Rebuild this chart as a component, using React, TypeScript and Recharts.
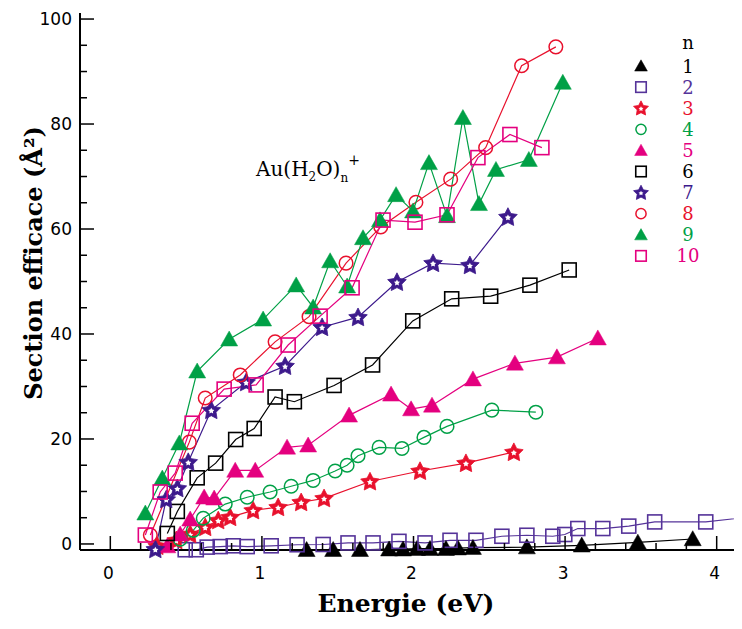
import React from 'react';
import { LineChart, Line, XAxis, YAxis } from 'recharts';

// ---- data (Energie eV, Section efficace Å²) ----
const n1X = [1.295, 1.47, 1.647, 1.839, 1.931, 2.023, 2.109, 2.214, 2.293, 2.392, 2.748, 3.11, 3.48, 3.842];
const n1Y = [-1.1, -1.1, -1.1, -1.0, -1.0, -0.9, -0.9, -0.9, -0.8, -0.7, -0.6, -0.25, 0.3, 0.95];

const n2X = [0.494, 0.567, 0.639, 0.725, 0.811, 0.903, 1.061, 1.232, 1.404, 1.568, 1.733, 1.904, 2.076, 2.241, 2.412, 2.583, 2.748, 2.919, 2.998, 3.084, 3.249, 3.42, 3.591, 3.928, 4.3];
const n2Y = [-1.1, -1.1, -0.6, -0.5, -0.35, -0.5, -0.35, -0.15, -0.1, 0.2, 0.2, 0.5, 0.2, 0.7, 0.7, 1.47, 1.66, 1.47, 1.8, 2.94, 2.94, 3.4, 4.2, 4.2, 5.4];

const n3X = [0.31, 0.435, 0.527, 0.626, 0.712, 0.791, 0.942, 1.107, 1.259, 1.41, 1.713, 2.043, 2.346, 2.662];
const n3Y = [-0.4, 0.7, 1.85, 3.2, 4.5, 5.1, 6.4, 7.0, 7.95, 8.7, 11.9, 13.9, 15.4, 17.5];

const n4X = [0.461, 0.547, 0.613, 0.758, 0.903, 1.054, 1.193, 1.338, 1.483, 1.562, 1.634, 1.773, 1.924, 2.069, 2.221, 2.517, 2.807];
const n4Y = [0.9, 2.6, 4.9, 7.6, 8.9, 9.9, 11.0, 12.1, 13.9, 15.0, 16.8, 18.4, 18.2, 20.3, 22.4, 25.5, 25.1];

const n5X = [0.376, 0.461, 0.527, 0.619, 0.685, 0.824, 0.956, 1.166, 1.305, 1.575, 1.852, 1.984, 2.122, 2.392, 2.669, 2.946, 3.216];
const n5Y = [-0.4, 1.85, 4.7, 8.9, 8.7, 14.0, 14.0, 18.4, 18.8, 24.5, 28.5, 25.7, 26.4, 31.4, 34.4, 35.6, 39.2];

const n6X = [0.376, 0.442, 0.573, 0.695, 0.827, 0.949, 1.087, 1.214, 1.476, 1.73, 1.995, 2.252, 2.509, 2.768, 3.027];
const n6Y = [2.0, 6.2, 12.6, 15.4, 19.9, 22.0, 28.0, 27.1, 30.2, 34.1, 42.5, 46.7, 47.2, 49.3, 52.2];

const n7X = [0.297, 0.369, 0.442, 0.514, 0.666, 0.896, 1.153, 1.397, 1.634, 1.891, 2.129, 2.372, 2.623];
const n7Y = [-1.0, 8.5, 10.6, 15.6, 25.5, 30.8, 33.9, 41.3, 43.2, 49.9, 53.5, 53.1, 62.3];

const n8X = [0.264, 0.521, 0.626, 0.857, 1.087, 1.311, 1.555, 1.784, 2.016, 2.245, 2.476, 2.713, 2.939];
const n8Y = [1.7, 19.4, 27.8, 32.2, 38.5, 43.3, 53.5, 60.4, 65.1, 69.5, 75.5, 91.1, 94.7];

const n9X = [0.231, 0.343, 0.455, 0.573, 0.784, 1.008, 1.226, 1.338, 1.45, 1.562, 1.667, 1.779, 1.885, 1.997, 2.102, 2.221, 2.326, 2.432, 2.544, 2.761, 2.985];
const n9Y = [5.85, 12.5, 19.2, 32.9, 39.0, 42.8, 49.3, 45.1, 53.9, 49.1, 58.3, 61.7, 66.5, 63.4, 72.6, 62.5, 81.2, 64.8, 71.3, 73.2, 87.9];

const n10X = [0.231, 0.329, 0.428, 0.54, 0.751, 0.962, 1.173, 1.384, 1.595, 1.799, 2.01, 2.221, 2.425, 2.636, 2.847];
const n10Y = [1.7, 9.9, 13.5, 23.0, 29.5, 30.3, 37.9, 43.4, 48.8, 61.7, 61.3, 62.7, 73.6, 78.0, 75.5];

const seriesLabels = ['1', '2', '3', '4', '5', '6', '7', '8', '9', '10'];
const seriesColors = ['#000000', '#553399', '#E8112D', '#00A046', '#E4007F', '#000000', '#3D1A8C', '#E8112D', '#00A046', '#E4007F'];
const seriesKinds = ['tri', 'sq', 'star', 'circ', 'tri', 'sq', 'star', 'circ', 'tri', 'sq'];
const seriesXs = [n1X, n2X, n3X, n4X, n5X, n6X, n7X, n8X, n9X, n10X];
const seriesYs = [n1Y, n2Y, n3Y, n4Y, n5Y, n6Y, n7Y, n8Y, n9Y, n10Y];

const xTicks = [0, 0.2, 0.4, 0.6, 0.8, 1, 1.2, 1.4, 1.6, 1.8, 2, 2.2, 2.4, 2.6, 2.8, 3, 3.2, 3.4, 3.6, 3.8, 4];
const yTicks = [0, 5, 10, 15, 20, 25, 30, 35, 40, 45, 50, 55, 60, 65, 70, 75, 80, 85, 90, 95, 100];

const xTitle = 'Energie (eV)';
const yTitle = 'Section efficace (Å²)';

const isMajorX = (v: number) => Math.abs(v - Math.round(v)) < 1e-6;
const isMajorY = (v: number) => Math.abs(v % 20) < 1e-6;

const MAJ = 14;
const MIN = 7;
const TICK_FONT = '"DejaVu Sans", Verdana, sans-serif';
const SERIF = '"DejaVu Serif", serif';

function starPoints(cx: number, cy: number, R: number, r: number) {
  const pts: string[] = [];
  for (let i = 0; i < 10; i++) {
    const a = -Math.PI / 2 + (i * Math.PI) / 5;
    const rad = i % 2 === 0 ? R : r;
    pts.push(`${cx + rad * Math.cos(a)},${cy + rad * Math.sin(a)}`);
  }
  return pts.join(' ');
}

function Marker({ kind, cx, cy, color, s }: { kind: string; cx: number; cy: number; color: string; s: number }) {
  if (cx == null || cy == null || isNaN(cx) || isNaN(cy)) return null;
  if (kind === 'tri') {
    const w = 17 * s;
    const h = 15 * s;
    return (
      <polygon
        points={`${cx},${cy - h * 0.55} ${cx - w / 2},${cy + h * 0.45} ${cx + w / 2},${cy + h * 0.45}`}
        fill={color}
        stroke={color}
        strokeWidth={0.5}
      />
    );
  }
  if (kind === 'sq') {
    const a = 14 * s;
    return <rect x={cx - a / 2} y={cy - a / 2} width={a} height={a} fill="none" stroke={color} strokeWidth={1.6} />;
  }
  if (kind === 'circ') {
    return <circle cx={cx} cy={cy} r={6.8 * s} fill="none" stroke={color} strokeWidth={1.5} />;
  }
  return (
    <g>
      <polygon points={starPoints(cx, cy + 0.6 * s, 9.8 * s, 5 * s)} fill={color} stroke={color} strokeWidth={0.8} strokeLinejoin="round" />
      <polygon points={starPoints(cx, cy + 0.8 * s, 3.2 * s, 1.7 * s)} fill="#ffffff" />
    </g>
  );
}

const makeDot = (kind: string, color: string) => (p: any) => (
  <Marker key={`dot-${p.index}`} kind={kind} cx={p.cx} cy={p.cy} color={color} s={1} />
);

const BottomTick = (props: any) => {
  const { x, y, payload } = props;
  const v = payload.value;
  const major = isMajorX(v);
  return (
    <g>
      <line x1={x} y1={y} x2={x} y2={y - (major ? MAJ : MIN)} stroke="#000" strokeWidth={1.5} />
      {major && (
        <text x={x - 2} y={y + 23} textAnchor="middle" dominantBaseline="central" fontFamily={TICK_FONT} fontSize={17} fill="#000">
          {v}
        </text>
      )}
    </g>
  );
};

const TopTick = (props: any) => {
  const { x, y, payload } = props;
  const major = isMajorX(payload.value);
  return <line x1={x} y1={y} x2={x} y2={y + (major ? MAJ : MIN)} stroke="#000" strokeWidth={1.5} />;
};

const LeftTick = (props: any) => {
  const { x, y, payload } = props;
  const v = payload.value;
  const major = isMajorY(v);
  return (
    <g>
      <line x1={x} y1={y} x2={x + (major ? MAJ : MIN)} y2={y} stroke="#000" strokeWidth={1.5} />
      {major && (
        <text x={x - 8} y={y} textAnchor="end" dominantBaseline="central" fontFamily={TICK_FONT} fontSize={17} fill="#000">
          {v}
        </text>
      )}
    </g>
  );
};

const RightTick = (props: any) => {
  const { x, y, payload } = props;
  const major = isMajorY(payload.value);
  return <line x1={x} y1={y} x2={x - (major ? MAJ : MIN)} y2={y} stroke="#000" strokeWidth={1.5} />;
};

const XTitle = () => (
  <text x={398} y={604} textAnchor="middle" fontFamily={SERIF} fontWeight="bold" fontSize={25} fill="#000">
    {xTitle}
  </text>
);

const YTitle = () => (
  <text
    x={25}
    y={255}
    transform="rotate(-90 25 255)"
    textAnchor="middle"
    dominantBaseline="central"
    fontFamily={SERIF}
    fontWeight="bold"
    fontSize={24}
    fill="#000"
  >
    {yTitle}
  </text>
);

export default function App() {
  const series = seriesLabels.map((lab, i) => ({
    lab,
    color: seriesColors[i],
    kind: seriesKinds[i],
    data: seriesXs[i].map((x, j) => ({ x, y: seriesYs[i][j] })),
  }));

  return (
    <div style={{ position: 'relative', width: 734, height: 613, overflow: 'hidden' }}>
      <style>{'body{overflow:hidden}'}</style>
      <LineChart width={770} height={613} margin={{ top: 5, right: 31, bottom: 0, left: 0 }}>
        <XAxis
          xAxisId="b"
          dataKey="x"
          type="number"
          orientation="bottom"
          domain={[-0.2, 4.2]}
          allowDataOverflow
          ticks={xTicks}
          interval={0}
          height={71}
          tickSize={0}
          tickMargin={0}
          tickLine={false}
          tick={<BottomTick />}
          axisLine={{ stroke: '#000', strokeWidth: 2 }}
          label={{ content: () => <XTitle /> }}
        />
        <XAxis
          xAxisId="t"
          type="number"
          orientation="top"
          domain={[-0.2, 4.2]}
          ticks={xTicks}
          interval={0}
          height={0}
          tickSize={0}
          tickMargin={0}
          tickLine={false}
          tick={<TopTick />}
          axisLine={{ stroke: '#000', strokeWidth: 2 }}
        />
        <YAxis
          yAxisId="l"
          type="number"
          orientation="left"
          domain={[-1.15, 101.15]}
          ticks={yTicks}
          interval={0}
          width={72}
          tickSize={0}
          tickMargin={0}
          tickLine={false}
          tick={<LeftTick />}
          axisLine={{ stroke: '#000', strokeWidth: 2 }}
          label={{ content: () => <YTitle /> }}
        />
        <YAxis
          yAxisId="r"
          type="number"
          orientation="right"
          domain={[-1.15, 101.15]}
          ticks={yTicks}
          interval={0}
          width={0}
          tickSize={0}
          tickMargin={0}
          tickLine={false}
          tick={<RightTick />}
          axisLine={{ stroke: '#000', strokeWidth: 2 }}
        />
        {series.map((s) => (
          <Line
            key={s.lab}
            xAxisId="b"
            yAxisId="l"
            type="linear"
            data={s.data}
            dataKey="y"
            name={s.lab}
            stroke={s.color}
            strokeWidth={1.2}
            dot={makeDot(s.kind, s.color)}
            activeDot={false}
            isAnimationActive={false}
          />
        ))}
      </LineChart>
      <svg width={734} height={613} style={{ position: 'absolute', left: 0, top: 0, pointerEvents: 'none' }}>
        <text x={248} y={168} fontFamily={SERIF} fontSize={20} fill="#000">
          Au(H
          <tspan fontSize={12} dy={5}>2</tspan>
          <tspan dy={-5}>O)</tspan>
          <tspan fontSize={12} dy={6}>n</tspan>
          <tspan fontSize={14} dy={-17}>+</tspan>
        </text>
        <text x={680} y={34} textAnchor="middle" dominantBaseline="central" fontFamily={SERIF} fontSize={18} fill="#000">
          n
        </text>
        {series.map((s, i) => {
          const yy = 58 + i * 21.1;
          return (
            <g key={`lg-${s.lab}`}>
              <Marker kind={s.kind} cx={633} cy={yy} color={s.color} s={s.kind === 'star' ? 0.8 : 0.75} />
              <text x={680} y={yy} textAnchor="middle" dominantBaseline="central" fontFamily={SERIF} fontSize={18} fill={s.color}>
                {s.lab}
              </text>
            </g>
          );
        })}
      </svg>
    </div>
  );
}
